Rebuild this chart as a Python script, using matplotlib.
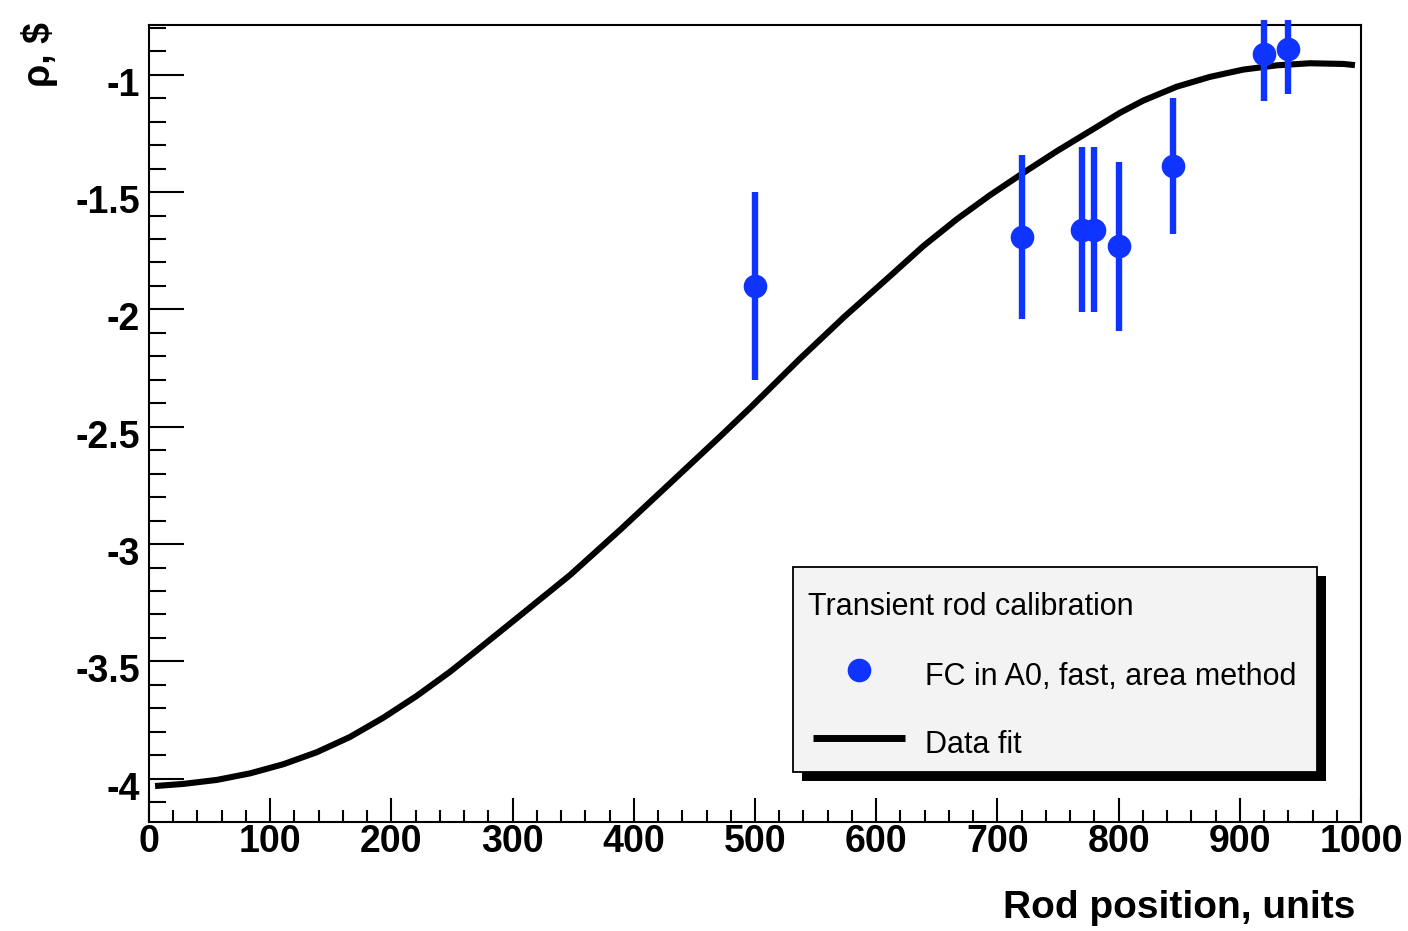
import matplotlib
matplotlib.use("Agg")
import matplotlib.pyplot as plt
from matplotlib.patches import Rectangle
from matplotlib.lines import Line2D
from matplotlib.transforms import ScaledTranslation, Bbox, TransformedBbox
from matplotlib.ticker import MultipleLocator

plt.rcParams['font.family'] = ['Liberation Sans', 'DejaVu Sans']

# measured points
rod_pos = [500, 720, 770, 780, 800, 845, 920, 940]
rho = [-1.90, -1.69, -1.66, -1.66, -1.73, -1.39, -0.91, -0.89]
rho_err = [0.40, 0.35, 0.35, 0.35, 0.36, 0.29, 0.20, 0.19]

# fit curve
fit_x = [5, 28.3, 55.9, 83.4, 110.9, 138.4, 165.8, 193.3, 220.9, 248.4, 271.7,
         303.4, 347.4, 388.6, 429.9, 471.1, 495.9, 537.1, 574.0, 611.4, 638.9,
         666.4, 693.9, 721.4, 748.9, 776.4, 801.2, 820.4, 847.9, 875.4, 902.9,
         930.4, 957.9, 985.4, 995]
fit_y = [-4.031, -4.022, -4.005, -3.977, -3.938, -3.887, -3.822, -3.740, -3.647,
         -3.544, -3.448, -3.316, -3.132, -2.940, -2.741, -2.542, -2.420, -2.210,
         -2.030, -1.858, -1.730, -1.616, -1.513, -1.418, -1.326, -1.240, -1.162,
         -1.110, -1.051, -1.009, -0.978, -0.960, -0.951, -0.954, -0.959]

x_ticks = [0, 100, 200, 300, 400, 500, 600, 700, 800, 900, 1000]
y_ticks = [-4, -3.5, -3, -2.5, -2, -1.5, -1]
y_tick_labels = ['-4', '-3.5', '-3', '-2.5', '-2', '-1.5', '-1']

W, H = 1408, 931
blue = '#1034ff'

def fx(px):
    return px / W

def fy(py):
    return 1 - py / H

fig = plt.figure(figsize=(W / 100, H / 100), dpi=100)
ax = fig.add_axes([fx(149), fy(821.7), fx(1361) - fx(149), fy(25) - fy(821.7)])

ax.plot(fit_x, fit_y, color='black', lw=4.4, solid_capstyle='butt',
        solid_joinstyle='round', zorder=2)

eb = ax.errorbar(rod_pos, rho, yerr=rho_err, fmt='o', color=blue, ms=16,
                 elinewidth=4.6, capsize=0, zorder=3)
# error bars run a little past the frame top, as in the original
for c in eb[2]:
    c.set_clip_box(TransformedBbox(Bbox([[0, -0.01], [1, 1.006]]), ax.transAxes))

ax.set_xlim(0, 1000)
ax.set_ylim(-4.183, -0.788)

ax.set_xticks(x_ticks)
ax.set_yticks(y_ticks)
ax.set_yticklabels(y_tick_labels)
ax.xaxis.set_minor_locator(MultipleLocator(20))
ax.yaxis.set_minor_locator(MultipleLocator(0.1))
ax.tick_params(axis='both', which='both', direction='in', top=False, right=False,
               width=1.5, labelsize=27)
ax.tick_params(axis='x', which='major', length=17.5, pad=2)
ax.tick_params(axis='x', which='minor', length=8.7)
ax.tick_params(axis='y', which='major', length=25, pad=6.5)
ax.tick_params(axis='y', which='minor', length=12.3)
for lab in ax.get_xticklabels() + ax.get_yticklabels():
    lab.set_fontweight('bold')
for lab in ax.get_yticklabels():
    lab.set_transform(lab.get_transform() + ScaledTranslation(0, -0.07, fig.dpi_scale_trans))
for s in ax.spines.values():
    s.set_linewidth(1.5)

fig.text(fx(1355), fy(908), 'Rod position, units', ha='right', va='center',
         fontsize=28, fontweight='bold')
fig.text(fx(40), fy(22), 'ρ, \\$', ha='center', va='top', rotation=90,
         fontsize=27, fontweight='bold')

# legend box with a black drop shadow
fig.add_artist(Rectangle((fx(802), fy(780.5)), fx(1326) - fx(802), fy(576) - fy(780.5),
                         transform=fig.transFigure, facecolor='black', edgecolor='none'))
fig.add_artist(Rectangle((fx(793), fy(771.7)), fx(1316.5) - fx(793), fy(567) - fy(771.7),
                         transform=fig.transFigure, facecolor='#f3f3f3',
                         edgecolor='black', lw=1.3))
fig.text(fx(808), fy(607), 'Transient rod calibration', ha='left', va='center',
         fontsize=22)
fig.add_artist(Line2D([fx(859)], [fy(670)], transform=fig.transFigure, marker='o',
                      ms=16, color=blue, ls='none'))
fig.text(fx(925), fy(677), 'FC in A0, fast, area method', ha='left', va='center',
         fontsize=22)
fig.add_artist(Line2D([fx(813), fx(905)], [fy(737.7), fy(737.7)], transform=fig.transFigure,
                      color='black', lw=5, solid_capstyle='butt'))
fig.text(fx(925), fy(745), 'Data fit', ha='left', va='center', fontsize=22)

fig.savefig('out.png', dpi=100)
